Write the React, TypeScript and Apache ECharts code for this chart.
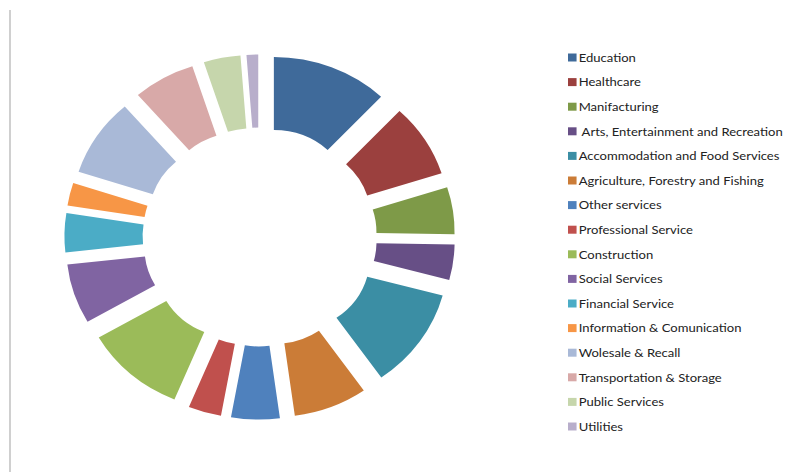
import React, { useEffect, useRef } from "react";
import * as echarts from "echarts";

const categories = [
  "Education",
  "Healthcare",
  "Manifacturing",
  " Arts, Entertainment and Recreation",
  "Accommodation and Food Services",
  "Agriculture, Forestry and Fishing",
  "Other services",
  "Professional Service",
  "Construction",
  "Social Services",
  "Financial Service",
  "Information & Comunication",
  "Wolesale & Recall",
  "Transportation & Storage",
  "Public Services",
  "Utilities",
];

const shares = [12, 8.1, 5.2, 3.9, 11.1, 7.6, 5, 3.4, 10.4, 6.6, 4.3, 2.5, 8.6, 6.4, 3.8, 1.2];

const colors = [
  "#3F6A9A", "#9B403E", "#7E9A48", "#674F86", "#3B8EA4", "#CB7C37",
  "#4F81BD", "#C0504D", "#9BBB59", "#8064A2", "#4BACC6", "#F79646",
  "#A9B9D7", "#D8A9A8", "#C6D6AC", "#B8AECB",
];

const SX = 1.07;
const W = 787 / SX;
const H = 472;

export default function App() {
  const ref = useRef<HTMLDivElement>(null);
  useEffect(() => {
    if (!ref.current) return;
    const chart = echarts.init(ref.current, undefined, { renderer: "svg" });
    chart.setOption({
      animation: false,
      backgroundColor: "#ffffff",
      legend: {
        orient: "vertical",
        left: 568 / SX - 5,
        top: 45.5,
        icon: "rect",
        itemWidth: 8,
        itemHeight: 8,
        itemGap: 10.6,
        selectedMode: false,
        textStyle: {
          fontFamily: "Lato",
          fontSize: 12.2,
          lineHeight: 14,
          color: "#222222",
          padding: [0, 0, 0, -3],
        },
        data: categories,
      },
      graphic: [
        {
          type: "line",
          shape: { x1: 10 / SX, y1: 10, x2: 10 / SX, y2: 472 },
          style: { stroke: "#a6a6a6", lineWidth: 1 },
        },
      ],
      series: [
        {
          type: "pie",
          silent: true,
          center: [259.7 / SX, 237],
          radius: [73.5, 146.5],
          startAngle: 90,
          clockwise: true,
          selectedMode: "multiple",
          selectedOffset: 36,
          label: { show: false },
          labelLine: { show: false },
          emphasis: { disabled: true },
          select: { itemStyle: { borderWidth: 0 } },
          itemStyle: { borderWidth: 0 },
          data: categories.map((name, i) => ({
            name,
            value: shares[i],
            selected: true,
            itemStyle: { color: colors[i] },
          })),
        },
      ],
    });
    return () => chart.dispose();
  }, []);
  return (
    <div
      style={{
        position: "fixed",
        left: 0,
        top: 0,
        width: 787,
        height: 472,
        overflow: "hidden",
        background: "#fff",
      }}
    >
      <div
        ref={ref}
        style={{
          width: W,
          height: H,
          transform: `scaleX(${SX})`,
          transformOrigin: "0 0",
        }}
      />
    </div>
  );
}
